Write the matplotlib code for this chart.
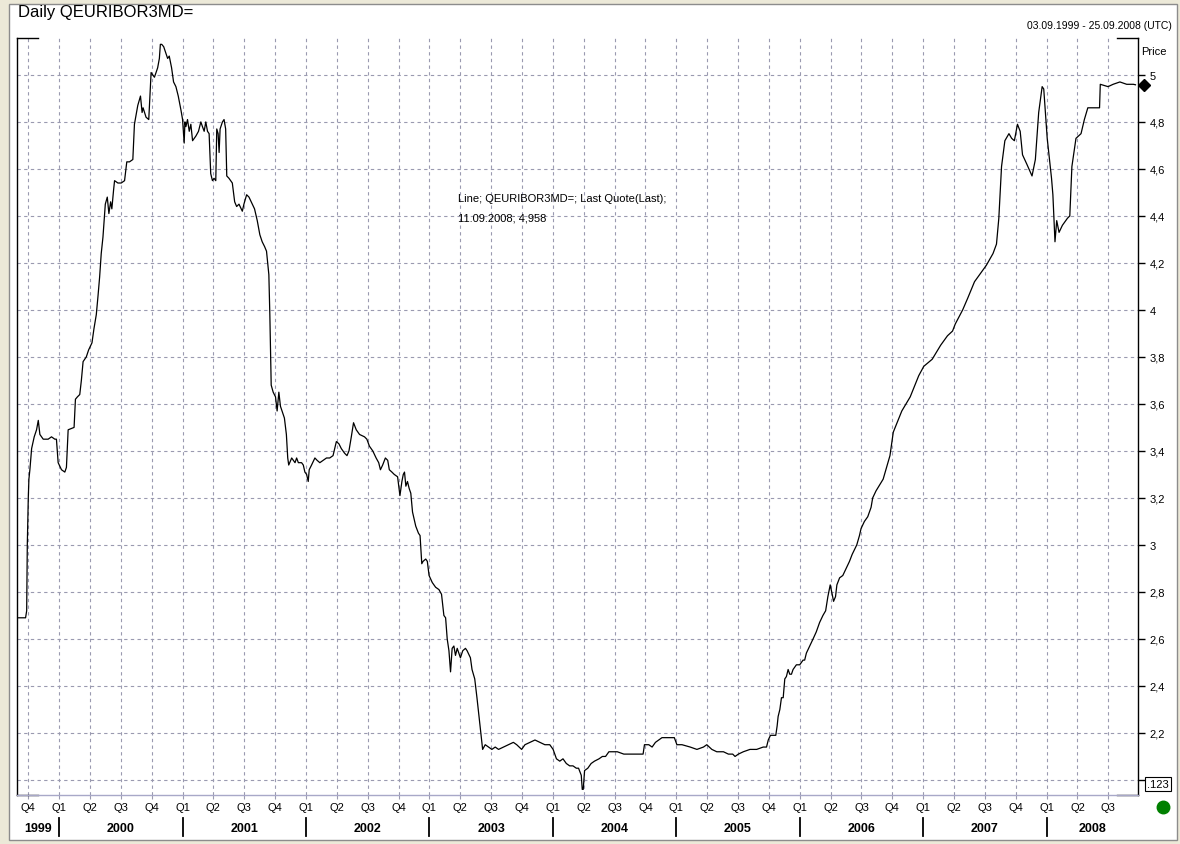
import matplotlib
matplotlib.use("Agg")
import matplotlib.pyplot as plt
import matplotlib.transforms as mtransforms
from matplotlib.patches import Rectangle
from matplotlib.lines import Line2D

plt.rcParams['font.family'] = ['Liberation Sans', 'DejaVu Sans']

# Daily 3M Euribor, time as fractional year
t_1999_2001 = [1999.672, 1999.728, 1999.737, 1999.742, 1999.750, 1999.755, 1999.763, 1999.777, 1999.798, 1999.817,
               1999.831, 1999.844, 1999.871, 1999.911, 1999.938, 1999.965, 1999.978, 1999.992, 2000.019, 2000.046,
               2000.059, 2000.073, 2000.121, 2000.132, 2000.148, 2000.167, 2000.180, 2000.194, 2000.220, 2000.239,
               2000.266, 2000.282, 2000.301, 2000.315, 2000.328, 2000.341, 2000.355, 2000.374, 2000.390, 2000.403,
               2000.417, 2000.427, 2000.441, 2000.449, 2000.476, 2000.503, 2000.530, 2000.548, 2000.570, 2000.597,
               2000.610, 2000.637, 2000.659, 2000.672, 2000.680, 2000.704, 2000.726, 2000.737, 2000.745, 2000.758,
               2000.772, 2000.785, 2000.798, 2000.812, 2000.820, 2000.831, 2000.847, 2000.866, 2000.879, 2000.892,
               2000.911, 2000.927, 2000.946, 2000.965, 2000.987, 2001.000, 2001.013, 2001.019, 2001.027, 2001.040,
               2001.054, 2001.067, 2001.081, 2001.108, 2001.129, 2001.148, 2001.161, 2001.175, 2001.188, 2001.202,
               2001.215, 2001.228, 2001.242, 2001.255, 2001.269, 2001.277, 2001.288, 2001.296, 2001.304, 2001.323,
               2001.336, 2001.349, 2001.358, 2001.376, 2001.403, 2001.422, 2001.438, 2001.457, 2001.484, 2001.497,
               2001.519, 2001.538, 2001.565, 2001.583, 2001.605, 2001.626, 2001.645, 2001.664, 2001.680, 2001.699,
               2001.707, 2001.718, 2001.734, 2001.753, 2001.766, 2001.780, 2001.793, 2001.806, 2001.825, 2001.841,
               2001.852, 2001.860]
v_1999_2001 = [2.69, 2.69, 2.72, 3.00, 3.20, 3.28, 3.32, 3.41, 3.46, 3.49,
               3.53, 3.47, 3.45, 3.45, 3.46, 3.45, 3.45, 3.35, 3.32, 3.31,
               3.33, 3.49, 3.50, 3.62, 3.63, 3.64, 3.70, 3.78, 3.80, 3.83,
               3.86, 3.92, 3.98, 4.06, 4.14, 4.24, 4.31, 4.45, 4.48, 4.41,
               4.46, 4.43, 4.51, 4.55, 4.54, 4.54, 4.55, 4.63, 4.63, 4.64,
               4.79, 4.87, 4.91, 4.84, 4.86, 4.82, 4.81, 4.93, 5.01, 5.00,
               4.99, 5.01, 5.03, 5.07, 5.13, 5.13, 5.12, 5.09, 5.07, 5.08,
               5.03, 4.97, 4.95, 4.91, 4.85, 4.81, 4.71, 4.80, 4.78, 4.81,
               4.76, 4.79, 4.72, 4.74, 4.76, 4.80, 4.78, 4.76, 4.80, 4.76,
               4.75, 4.58, 4.55, 4.56, 4.55, 4.77, 4.75, 4.67, 4.77, 4.80,
               4.81, 4.77, 4.57, 4.56, 4.54, 4.46, 4.44, 4.45, 4.42, 4.45,
               4.49, 4.48, 4.45, 4.43, 4.38, 4.32, 4.29, 4.27, 4.25, 4.15,
               3.98, 3.68, 3.65, 3.63, 3.57, 3.65, 3.59, 3.57, 3.54, 3.47,
               3.37, 3.34]

t_2001_2004 = [2001.884, 2001.911, 2001.924, 2001.938, 2001.964, 2001.978, 2001.991, 2002.005, 2002.018, 2002.026,
               2002.045, 2002.072, 2002.090, 2002.112, 2002.139, 2002.166, 2002.192, 2002.219, 2002.246, 2002.267,
               2002.286, 2002.313, 2002.332, 2002.348, 2002.367, 2002.385, 2002.407, 2002.434, 2002.474, 2002.493,
               2002.514, 2002.541, 2002.568, 2002.589, 2002.603, 2002.621, 2002.643, 2002.662, 2002.675, 2002.696,
               2002.715, 2002.742, 2002.761, 2002.777, 2002.788, 2002.798, 2002.809, 2002.822, 2002.836, 2002.849,
               2002.863, 2002.876, 2002.889, 2002.911, 2002.924, 2002.938, 2002.948, 2002.970, 2002.983, 2002.997,
               2003.023, 2003.050, 2003.077, 2003.098, 2003.117, 2003.131, 2003.144, 2003.158, 2003.171, 2003.184,
               2003.198, 2003.211, 2003.225, 2003.238, 2003.251, 2003.270, 2003.292, 2003.305, 2003.332, 2003.345,
               2003.367, 2003.385, 2003.404, 2003.420, 2003.431, 2003.452, 2003.479, 2003.506, 2003.533, 2003.560,
               2003.600, 2003.640, 2003.680, 2003.707, 2003.747, 2003.774, 2003.814, 2003.855, 2003.895, 2003.935,
               2003.975, 2004.002, 2004.029, 2004.056, 2004.082, 2004.109, 2004.136, 2004.163, 2004.190, 2004.208,
               2004.230, 2004.238, 2004.246, 2004.257, 2004.283, 2004.310, 2004.337]
v_2001_2004 = [3.37, 3.35, 3.37, 3.35, 3.35, 3.34, 3.31, 3.30, 3.27, 3.32,
               3.34, 3.37, 3.36, 3.35, 3.36, 3.37, 3.37, 3.38, 3.44, 3.43,
               3.41, 3.39, 3.38, 3.40, 3.46, 3.52, 3.49, 3.47, 3.46, 3.45,
               3.42, 3.40, 3.37, 3.35, 3.32, 3.34, 3.37, 3.36, 3.32, 3.31,
               3.30, 3.29, 3.21, 3.27, 3.30, 3.31, 3.25, 3.27, 3.24, 3.22,
               3.14, 3.11, 3.08, 3.05, 3.04, 2.92, 2.93, 2.94, 2.93, 2.87,
               2.84, 2.82, 2.81, 2.79, 2.70, 2.69, 2.60, 2.55, 2.46, 2.56,
               2.57, 2.53, 2.56, 2.54, 2.52, 2.55, 2.56, 2.55, 2.52, 2.47,
               2.43, 2.35, 2.26, 2.18, 2.13, 2.15, 2.14, 2.13, 2.14, 2.13,
               2.14, 2.15, 2.16, 2.15, 2.13, 2.15, 2.16, 2.17, 2.16, 2.15,
               2.15, 2.13, 2.09, 2.08, 2.09, 2.07, 2.06, 2.06, 2.05, 2.05,
               2.02, 1.96, 1.96, 2.04, 2.05, 2.07, 2.08]

t_2004_2006 = [2004.374, 2004.401, 2004.427, 2004.454, 2004.481, 2004.522, 2004.575, 2004.629, 2004.683, 2004.731,
               2004.742, 2004.777, 2004.804, 2004.831, 2004.858, 2004.884, 2004.925, 2004.965, 2004.984, 2005.005,
               2005.046, 2005.113, 2005.167, 2005.220, 2005.247, 2005.288, 2005.328, 2005.382, 2005.422, 2005.457,
               2005.476, 2005.503, 2005.543, 2005.597, 2005.651, 2005.704, 2005.731, 2005.745, 2005.763, 2005.785,
               2005.806, 2005.817, 2005.825, 2005.839, 2005.852, 2005.866, 2005.879, 2005.892, 2005.906, 2005.919,
               2005.933, 2005.946, 2005.973, 2006.000, 2006.027, 2006.040, 2006.054, 2006.081, 2006.108, 2006.134,
               2006.161, 2006.188, 2006.210, 2006.228, 2006.247, 2006.263, 2006.274, 2006.290, 2006.301, 2006.323,
               2006.349, 2006.376, 2006.403, 2006.425, 2006.444, 2006.462, 2006.484, 2006.497, 2006.524, 2006.551,
               2006.578, 2006.591, 2006.618]
v_2004_2006 = [2.09, 2.10, 2.10, 2.12, 2.12, 2.12, 2.11, 2.11, 2.11, 2.11,
               2.15, 2.15, 2.14, 2.16, 2.17, 2.18, 2.18, 2.18, 2.18, 2.15,
               2.15, 2.14, 2.13, 2.14, 2.15, 2.13, 2.12, 2.12, 2.11, 2.11,
               2.10, 2.11, 2.12, 2.13, 2.13, 2.14, 2.14, 2.17, 2.19, 2.19,
               2.19, 2.23, 2.27, 2.30, 2.35, 2.35, 2.43, 2.44, 2.47, 2.45,
               2.45, 2.47, 2.49, 2.49, 2.51, 2.51, 2.54, 2.57, 2.60, 2.63,
               2.67, 2.70, 2.72, 2.78, 2.83, 2.79, 2.76, 2.78, 2.83, 2.86,
               2.87, 2.90, 2.93, 2.96, 2.98, 3.00, 3.04, 3.07, 3.10, 3.12,
               3.16, 3.20, 3.23]

t_2006_2008 = [2006.676, 2006.731, 2006.758, 2006.827, 2006.895, 2006.964, 2007.005, 2007.073, 2007.142, 2007.197,
               2007.238, 2007.260, 2007.320, 2007.361, 2007.416, 2007.471, 2007.512, 2007.566, 2007.594, 2007.613,
               2007.635, 2007.662, 2007.695, 2007.717, 2007.739, 2007.764, 2007.786, 2007.805, 2007.840, 2007.882,
               2007.909, 2007.936, 2007.964, 2007.977, 2008.005, 2008.040, 2008.051, 2008.068, 2008.082, 2008.101,
               2008.128, 2008.169, 2008.188, 2008.205, 2008.238, 2008.279, 2008.306, 2008.334, 2008.375, 2008.429,
               2008.435, 2008.498, 2008.539, 2008.594, 2008.649, 2008.703, 2008.720]
v_2006_2008 = [3.28, 3.38, 3.48, 3.57, 3.63, 3.72, 3.76, 3.79, 3.85, 3.89,
               3.91, 3.94, 4.00, 4.05, 4.12, 4.16, 4.19, 4.24, 4.28, 4.39,
               4.61, 4.72, 4.75, 4.73, 4.72, 4.79, 4.76, 4.66, 4.62, 4.57,
               4.64, 4.84, 4.95, 4.94, 4.73, 4.56, 4.49, 4.29, 4.38, 4.33,
               4.36, 4.39, 4.40, 4.61, 4.73, 4.75, 4.81, 4.86, 4.86, 4.86,
               4.96, 4.95, 4.96, 4.97, 4.96, 4.96, 4.958]

last_quote_date = '11.09.2008'
last_quote = 4.958
price_ticks = [2.0, 2.2, 2.4, 2.6, 2.8, 3.0, 3.2, 3.4, 3.6, 3.8, 4.0, 4.2, 4.4, 4.6, 4.8, 5.0]
years = [1999, 2000, 2001, 2002, 2003, 2004, 2005, 2006, 2007, 2008]

t = t_1999_2001 + t_2001_2004 + t_2004_2006 + t_2006_2008
v = v_1999_2001 + v_2001_2004 + v_2004_2006 + v_2006_2008
assert len(t) == len(v)

W, H = 1180, 845
fig = plt.figure(figsize=(W / 100, H / 100), dpi=100)
fig.patch.set_facecolor('#ece9d8')
fig.add_artist(Rectangle((9 / W, 1 - 841 / H), 1168 / W, 836 / H, transform=fig.transFigure,
                         facecolor='white', edgecolor='#8c8c8c', lw=1, zorder=-10))

# plot area in pixels: x 17..1138, y 39..796
ax = fig.add_axes([17.3 / W, 1 - 796 / H, 1121 / W, 757 / H])
ax.set_facecolor('white')
ax.set_xlim(1999.661, 2008.743)
ax.set_ylim(1.936, 5.157)

ax.plot(t, v, color='black', lw=0.9)

# quarter ticks / grid
qpos = []
qlab = []
for y in years:
    for q in range(4):
        p = y + q * 0.25
        if 1999.661 < p < 2008.743:
            qpos.append(p)
            qlab.append('Q%d' % (q + 1))
ax.set_xticks(qpos)
ax.set_xticklabels(qlab, fontsize=8)
ax.set_yticks(price_ticks)
ax.set_yticklabels(['' if p == 2.0 else ('%g' % p).replace('.', ',') for p in price_ticks], fontsize=8)
ax.yaxis.tick_right()
ax.tick_params(axis='y', direction='out', length=5, width=1, color='black', pad=3)
ax.tick_params(axis='x', direction='out', length=3, width=0.8, color='#9a9ab0', pad=2)
ax.grid(True, color='#9a9ab0', lw=0.8, ls=(0, (3, 3)))

for s in ['left', 'right']:
    ax.spines[s].set_color('black')
    ax.spines[s].set_linewidth(1)
ax.spines['top'].set_visible(False)
ax.spines['bottom'].set_color('#a8a8c8')
ax.spines['bottom'].set_linewidth(1)

# black corner segments
cw = 21 / 1121
for (x0, x1) in [(0, cw), (1 - cw, 1)]:
    for yy in [0, 1]:
        ax.add_line(Line2D([x0, x1], [yy, yy], transform=ax.transAxes, color='black', lw=1, clip_on=False))

# year labels with separators
trans = mtransforms.blended_transform_factory(ax.transData, ax.transAxes)
x0, x1 = ax.get_xlim()
for y in years:
    a, b = max(y, x0), min(y + 1, x1)
    ax.text((a + b) / 2, -0.043, str(y), transform=trans, ha='center', va='center',
            fontsize=9, fontweight='bold')
    if y > years[0]:
        ax.add_line(Line2D([y, y], [-0.031, -0.054], transform=trans, color='black', lw=1.3, clip_on=False))

# last quote marker on the axis
ax.plot([x1 + 0.045], [last_quote], marker='D', ms=6, color='black', clip_on=False)

ax.text(0.393, 0.789, 'Line; QEURIBOR3MD=; Last Quote(Last);', transform=ax.transAxes,
        fontsize=8, va='center', ha='left')
ax.text(0.393, 0.7635, '%s; %s' % (last_quote_date, ('%.3f' % last_quote).replace('.', ',')),
        transform=ax.transAxes, fontsize=8, va='center', ha='left')

ax.text(1.0025, 0.983, 'Price', transform=ax.transAxes, fontsize=8, va='center', ha='left')
ax.text(1.0176, 0.0145, '.123', transform=ax.transAxes, fontsize=8, va='center', ha='center',
        bbox=dict(boxstyle='square,pad=0.15', facecolor='white', edgecolor='black', lw=0.8))
ax.plot([1.022], [-0.016], 'o', transform=ax.transAxes, ms=9, color='#008000', clip_on=False)

fig.text(18 / W, 1 - 13 / H, 'Daily QEURIBOR3MD=', fontsize=12, va='center', ha='left')
fig.text(1172 / W, 1 - 26 / H, '03.09.1999 - 25.09.2008 (UTC)', fontsize=7.5, va='center', ha='right')

fig.savefig('out.png', dpi=100, facecolor=fig.get_facecolor())
